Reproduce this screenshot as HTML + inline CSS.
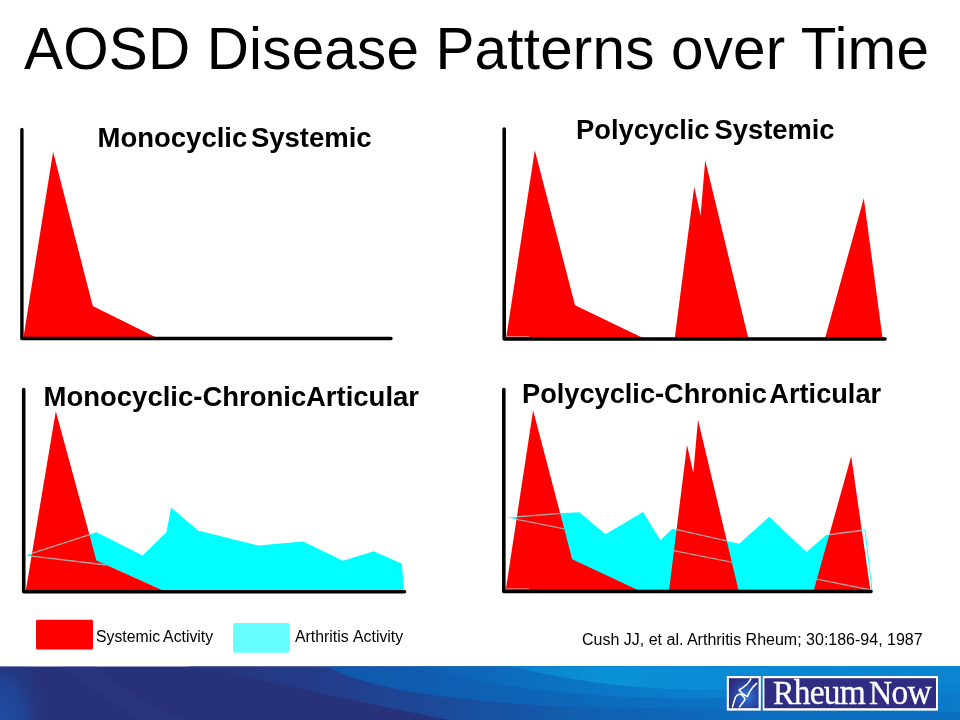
<!DOCTYPE html>
<html><head><meta charset="utf-8">
<style>
html,body{margin:0;padding:0;background:#fff;}
body{width:960px;height:720px;overflow:hidden;position:relative;font-family:"Liberation Sans",sans-serif;}
svg{position:absolute;left:0;top:0;}
.t{position:absolute;white-space:nowrap;color:#000;line-height:1;}
#title{left:24px;top:20px;font-size:58.4px;letter-spacing:0.2px;}
.h{font-weight:bold;font-size:27.5px;}
.s{font-size:15.8px;}
#logo{position:absolute;left:773px;top:674.1px;font-family:"Liberation Serif",serif;font-size:34.5px;color:#fff;line-height:1;white-space:nowrap;letter-spacing:-0.75px;-webkit-text-stroke:0.35px #fff;}
.lw{display:inline-block;transform-origin:0 0;}
.lc{font-size:36px;letter-spacing:-0.85px;}
</style></head><body>
<svg width="960" height="720" viewBox="0 0 960 720">
<defs>
<linearGradient id="g1" x1="0" y1="0" x2="960" y2="0" gradientUnits="userSpaceOnUse">
<stop offset="0" stop-color="#28327b"/><stop offset="1" stop-color="#28327b"/>
</linearGradient>
<linearGradient id="g2" x1="0" y1="0" x2="960" y2="0" gradientUnits="userSpaceOnUse">
<stop offset="0.19" stop-color="#27347e"/><stop offset="0.32" stop-color="#243b88"/><stop offset="0.42" stop-color="#1e4695"/><stop offset="0.52" stop-color="#1752a2"/><stop offset="0.62" stop-color="#1060b2"/><stop offset="0.78" stop-color="#0d6cbe"/><stop offset="1" stop-color="#0c6ec0"/>
</linearGradient>
<linearGradient id="g3" x1="0" y1="0" x2="960" y2="0" gradientUnits="userSpaceOnUse">
<stop offset="0.33" stop-color="#0f58ac"/><stop offset="0.5" stop-color="#0e60b2"/><stop offset="0.7" stop-color="#0c70c2"/><stop offset="1" stop-color="#0b7ac9"/>
</linearGradient>
<linearGradient id="g5" x1="0" y1="0" x2="960" y2="0" gradientUnits="userSpaceOnUse">
<stop offset="0.43" stop-color="#0e5fb2"/><stop offset="0.6" stop-color="#0b74c4"/><stop offset="0.75" stop-color="#0a80ce"/><stop offset="1" stop-color="#0b80cf"/>
</linearGradient>
<linearGradient id="g4" x1="0" y1="0" x2="960" y2="0" gradientUnits="userSpaceOnUse">
<stop offset="0.52" stop-color="#0b7cc8"/><stop offset="0.63" stop-color="#0a92d8"/><stop offset="0.8" stop-color="#0a88d4"/><stop offset="1" stop-color="#0b84d2"/>
</linearGradient>
<radialGradient id="le" cx="0" cy="725" r="85" gradientUnits="userSpaceOnUse" gradientTransform="translate(0 725) scale(0.6 1) translate(0 -725)">
<stop offset="0" stop-color="#1d50a2"/><stop offset="0.5" stop-color="#1f479a" stop-opacity="0.8"/><stop offset="1" stop-color="#28327b" stop-opacity="0"/>
</radialGradient>
<radialGradient id="ic" cx="0.6" cy="0.6" r="0.65">
<stop offset="0" stop-color="#2a7cd8"/><stop offset="0.55" stop-color="#2a4aa6"/><stop offset="1" stop-color="#2b2b7e"/>
</radialGradient>
<clipPath id="r3"><polygon points="25.6,591.7 55.8,411.2 96.4,560.4 166,591.7"/></clipPath>
<clipPath id="r4"><path d="M505.6,590 L533.1,410.2 L572.2,559.2 L641,591.5 Z M669,590 L687,445 L693.3,473 L698,419.7 L738.7,590 Z M813.6,590 L851.2,456.2 L870.5,590 Z"/></clipPath>
</defs>
<!-- footer bar -->
<clipPath id="barclip"><rect x="0" y="666.6" width="960" height="54"/></clipPath>
<g clip-path="url(#barclip)">
<rect x="0" y="666" width="960" height="54" fill="url(#g1)"/>
<rect x="0" y="666" width="60" height="54" fill="url(#le)"/>
<path d="M62,666 L95,666 C120,690 150,705 185,720 L140,720 C110,700 85,685 62,666 Z" fill="#33408c" opacity="0.3"/>
<path d="M185,666 C250,676 320,694 450,720 L960,720 L960,666 Z" fill="url(#g2)"/>
<path d="M328,666 C352,681 410,699 570,707 L960,712 L960,666 Z" fill="url(#g3)"/>
<path d="M420,666 C500,690 600,700 720,698 L960,692 L960,666 Z" fill="url(#g5)"/>
<path d="M505,666 C560,676 600,688 700,690 L960,682 L960,666 Z" fill="url(#g4)"/>
</g>
<!-- logo -->
<rect x="726.8" y="676" width="34" height="34.6" fill="#fff"/>
<rect x="728.9" y="678.2" width="29.7" height="30" fill="url(#ic)"/>
<path d="M750.8,678.8 C748.5,683.5 744.5,687 739,690 C741,692.8 744,695.2 747.5,696.6 C749,692 752,687.5 756.7,683.4" fill="none" stroke="#fff" stroke-width="1.5" stroke-linejoin="round" stroke-linecap="round"/>
<path d="M732.5,707 C733.5,703 734.5,700.5 735,698.5 C735.8,695.5 738.5,694 740.3,694.2 C742.3,694.6 744,696.8 745,699.3 C743.5,702 741.5,704.5 739.6,706.8" fill="none" stroke="#fff" stroke-width="1.5" stroke-linejoin="round" stroke-linecap="round"/>
<rect x="762.7" y="676" width="175.2" height="34.6" fill="#fff"/>
<rect x="764.4" y="678.2" width="171.6" height="30" fill="#2f2c82"/>

<!-- chart 1 -->
<polygon points="23.3,338.5 53.1,151.7 92.7,306 158.2,338.5" fill="#fe0000"/>
<polyline points="21.9,129.5 21.9,338.5 391,338.5" fill="none" stroke="#000" stroke-width="3.4" stroke-linecap="round" stroke-linejoin="round"/>

<!-- chart 2 -->
<path d="M506,339 L534.8,150.2 L575,305.2 L645.1,339 Z M674.7,338.5 L694.2,186.7 L700.6,215.8 L705.2,160.2 L748.4,338.5 Z M825,338.5 L863.8,198.3 L882.6,338.5 Z" fill="#fe0000"/>
<line x1="506" y1="336.6" x2="529" y2="336.6" stroke="#e8a0a8" stroke-width="0.8"/>
<polyline points="504.2,129 504.2,339 885,339" fill="none" stroke="#000" stroke-width="3.6" stroke-linecap="round" stroke-linejoin="round"/>

<!-- chart 3 -->
<polygon points="25.7,555.4 96.6,532.3 142.6,555.4 166.5,532 171.1,507.5 198.1,530.6 258.5,545.6 303.1,541.5 343.1,560.8 373.75,551.25 401.9,563.75 404,591 166,591.7 106.5,565" fill="#00ffff"/>
<polygon points="25.6,591.7 55.8,411.2 96.4,560.4 166,591.7" fill="#fe0000"/>
<g clip-path="url(#r3)" stroke="#b4a6a2" stroke-width="1.3" fill="none">
<line x1="25.7" y1="555.4" x2="96.6" y2="532.3"/><line x1="25.7" y1="555.4" x2="106.5" y2="565"/>
</g>
<polyline points="23.7,389.5 23.7,591.7 404.5,591.7" fill="none" stroke="#000" stroke-width="3.6" stroke-linecap="round" stroke-linejoin="round"/>

<!-- chart 4 -->
<polygon points="507.7,517.5 561,513.3 579.4,512.2 605.5,534.2 643,512 660.5,540.2 672.3,528.7 739.2,543.7 769.2,516.7 806.5,552 826.25,535 861,530.5 869,591 620,591 566,572 560,528.1" fill="#00ffff"/>
<path d="M505.6,591 L533.1,410.2 L572.2,559.2 L641,591.5 Z M669,591 L687,445 L693.3,473 L698,419.7 L738.7,591 Z M813.6,591 L851.2,456.2 L870.5,591 Z" fill="#fe0000"/>
<polyline points="861,530.5 865,530 872,590.5" fill="none" stroke="#2ff" stroke-width="1"/>
<g clip-path="url(#r4)" stroke="#b4a6a2" stroke-width="1.3" fill="none">
<polyline points="507.7,517.5 561,513.3 579.4,512.2"/><line x1="672.3" y1="528.7" x2="739.2" y2="543.7"/><line x1="826.25" y1="535" x2="865" y2="530"/>
<line x1="507.7" y1="517.5" x2="871" y2="590"/>
</g>
<line x1="506" y1="588.8" x2="529" y2="588.8" stroke="#e8a0a8" stroke-width="0.8"/>
<polyline points="503.8,389.5 503.8,591.5 871,591.5" fill="none" stroke="#000" stroke-width="3.6" stroke-linecap="round" stroke-linejoin="round"/>

<!-- legend -->
<rect x="36" y="619.8" width="57" height="29.8" rx="1.5" fill="#fe0000"/>
<rect x="233.1" y="622.9" width="56.7" height="29.8" rx="2" fill="#66ffff"/>
</svg>
<div class="t" id="title">AOSD Disease Patterns over Time</div>
<div class="t h" style="left:97.5px;top:123.5px;word-spacing:-4px;">Monocyclic Systemic</div>
<div class="t h" style="left:576px;top:115.5px;font-size:27.3px;word-spacing:-2.5px;">Polycyclic Systemic</div>
<div class="t h" style="left:43.5px;top:383px;word-spacing:-7px;">Monocyclic-Chronic Articular</div>
<div class="t h" style="left:522px;top:380px;font-size:27.2px;word-spacing:-4px;">Polycyclic-Chronic Articular</div>
<div class="t s" style="left:96px;top:628.5px;word-spacing:-0.5px;">Systemic Activity</div>
<div class="t s" style="left:295px;top:628.5px;word-spacing:1px;">Arthritis Activity</div>
<div class="t s" style="left:582px;top:632px;font-size:16px;">Cush JJ, et al. Arthritis Rheum; 30:186-94, 1987</div>
<div id="logo"><span class="lw" style="transform:scaleX(0.93)">R<span class="lc">heum</span></span><span class="lw" style="transform:scaleX(0.93);margin-left:-3px">N<span class="lc">ow</span></span></div>
</body></html>
